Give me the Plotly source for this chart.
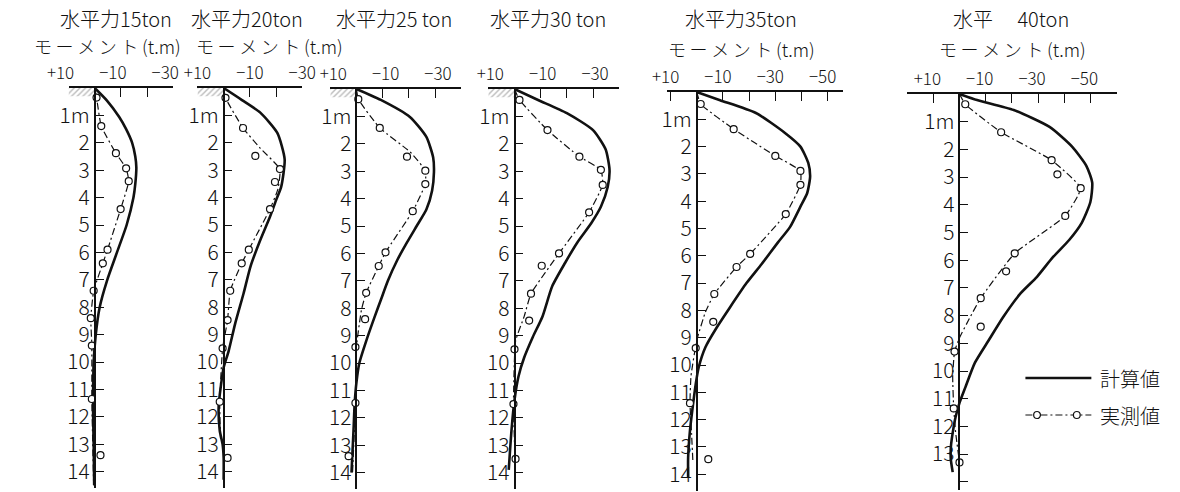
import plotly.graph_objects as go

W, H = 1180, 492
FONT = "Noto Sans CJK JP, Noto Sans, sans-serif"
INK = "#111111"

# ---- data: bending moment (t.m) against depth (m), one block per load case ----
loads = ["15", "20", "25", "30", "35", "40"]

calc_depth_15 = [0, 0.45, 1.05, 1.5, 2.0, 2.5, 2.9, 3.5, 4.0, 5.0, 6.0, 7.0, 8.0, 9.0, 10.0, 11.0, 12.0, 13.0, 14.5]
calc_moment_15 = [0, -4.6, -9.3, -12.0, -14.3, -15.5, -15.9, -15.5, -14.8, -12.2, -8.5, -4.8, -1.9, -0.4, 0.4, 0.6, 0.6, 0.4, 0.2]
meas_depth_15 = [0.35, 1.39, 2.38, 2.93, 3.4, 4.42, 5.9, 6.4, 7.4, 8.4, 9.4, 11.35, 13.4]
meas_moment_15 = [-0.7, -2.5, -8.1, -12.0, -13.0, -9.9, -4.9, -3.1, 0.4, 1.5, 1.1, 1.1, -2.2]
trend_depth_15 = [0, 0.35, 1.39, 2.38, 2.93, 3.4, 4.42, 5.9, 6.4, 7.4, 8.4, 9.4, 11.35, 14.5]
trend_moment_15 = [0, -0.7, -2.5, -8.1, -12.0, -13.0, -9.9, -4.9, -3.1, 0.4, 1.5, 1.1, 1.1, 0.4]

calc_depth_20 = [0, 0.44, 0.9, 1.64, 2.6, 3.6, 4.1, 4.7, 5.55, 6.5, 7.5, 8.6, 9.6, 10.2, 10.9, 11.6, 12.5, 13.0, 13.5, 14.3]
calc_moment_20 = [0, -7.0, -14.0, -20.5, -23.3, -22.0, -20.0, -17.7, -14.0, -10.3, -7.6, -4.4, -1.9, 0, 1.1, 1.9, 1.5, 0.4, 0, 0]
meas_depth_20 = [0.36, 1.46, 2.48, 2.96, 3.43, 4.42, 5.9, 6.4, 7.4, 8.47, 9.5, 11.45, 13.5]
meas_moment_20 = [-0.7, -7.4, -12.1, -21.5, -19.6, -17.7, -9.6, -6.9, -2.5, -1.5, 0.4, 1.5, -1.5]
trend_depth_20 = [0, 0.36, 1.46, 2.2, 2.96, 3.7, 4.42, 5.9, 6.4, 7.4, 8.47, 9.5, 11.45, 12.8]
trend_moment_20 = [0, -0.7, -7.4, -14.0, -21.5, -20.7, -17.7, -9.6, -6.9, -2.5, -1.5, 0.4, 1.5, 1.2]

calc_depth_25 = [0, 0.4, 1.02, 1.75, 2.5, 3.03, 3.7, 4.4, 5.0, 5.6, 6.24, 7.0, 7.7, 8.3, 9.2, 10.0, 10.7, 11.5, 12.4, 14.0]
calc_moment_25 = [0, -9.3, -20.4, -26.7, -29.3, -29.6, -28.9, -26.7, -23.0, -19.3, -15.6, -12.0, -9.3, -7.0, -3.7, -1.1, 0, 0.7, 1.1, 1.9]
meas_depth_25 = [0.37, 1.42, 2.47, 2.98, 3.47, 4.46, 5.96, 6.46, 7.44, 8.4, 9.42, 11.46, 13.4]
meas_moment_25 = [-0.7, -8.9, -19.3, -26.3, -26.3, -21.5, -11.1, -8.5, -3.7, -3.3, 0.4, 0.4, 3.0]
trend_depth_25 = [0, 0.37, 1.42, 2.3, 2.98, 3.47, 4.46, 5.96, 6.46, 7.44, 8.06, 9.4, 11.46, 14.0]
trend_moment_25 = [0, -0.7, -8.9, -20.5, -26.3, -26.3, -21.5, -11.1, -8.5, -3.7, -1.9, 0, 0.4, 1.5]

calc_depth_30 = [0, 0.4, 0.88, 1.5, 2.2, 2.95, 3.58, 4.3, 4.9, 5.6, 6.35, 7.2, 8.3, 9.05, 9.8, 10.5, 11.35, 12.4, 13.9]
calc_moment_30 = [0, -9.0, -20.0, -30.0, -34.8, -36.3, -35.6, -33.0, -29.3, -24.0, -19.3, -14.4, -10.7, -7.0, -3.7, -1.5, 0, 1.1, 2.2]
meas_depth_30 = [0.4, 1.5, 2.47, 2.95, 3.5, 4.5, 6.0, 6.45, 7.47, 8.45, 9.5, 11.5, 13.5]
meas_moment_30 = [-1.9, -12.6, -24.8, -33.0, -33.7, -28.5, -17.0, -10.4, -6.3, -5.6, 0, 0.4, -0.4]
trend_depth_30 = [0, 0.4, 1.5, 2.47, 2.95, 3.5, 4.5, 6.0, 7.47, 8.3, 9.2, 11.5, 13.5]
trend_moment_30 = [0, -1.9, -12.6, -24.8, -33.0, -33.7, -28.5, -17.0, -6.3, -3.7, -0.4, 0.4, -0.2]

calc_depth_35 = [0, 0.3, 0.77, 1.5, 2.0, 2.6, 3.1, 3.7, 4.2, 4.95, 5.5, 6.3, 7.0, 7.9, 8.6, 9.35, 10.1, 10.7, 11.5, 12.4, 13.4, 14.1]
calc_moment_35 = [0, -8.9, -22.6, -33.7, -39.6, -42.6, -43.3, -42.2, -39.6, -35.6, -31.1, -24.8, -19.0, -12.6, -7.8, -3.3, -0.7, 0.4, 1.5, 2.6, 3.3, 3.3]
meas_depth_35 = [0.44, 1.36, 2.34, 2.89, 3.4, 4.47, 5.93, 6.41, 7.4, 8.42, 9.38, 11.4, 13.45]
meas_moment_35 = [-1.5, -14.1, -30.0, -39.6, -39.6, -34.0, -20.4, -15.2, -6.7, -6.3, 0.4, 2.6, -4.4]
trend_depth_35 = [0, 0.44, 1.36, 2.34, 2.89, 3.4, 4.47, 5.93, 6.41, 7.4, 8.06, 9.1, 10.4, 11.4, 12.5, 13.5]
trend_moment_35 = [0, -1.5, -14.1, -30.0, -39.6, -39.6, -34.0, -20.4, -15.2, -6.7, -3.3, 0, 2.2, 2.6, 2.0, 1.5]

calc_depth_40 = [0, 0.22, 0.58, 1.19, 1.9, 2.6, 3.2, 3.9, 4.65, 5.27, 5.9, 6.6, 7.2, 8.05, 8.9, 9.7, 10.6, 11.15, 11.66, 12.0, 12.75, 13.2, 13.65]
calc_moment_40 = [0, -6.7, -20.7, -34.4, -43.0, -48.5, -50.7, -50.0, -46.7, -41.9, -35.6, -29.6, -23.3, -16.7, -11.1, -5.9, -2.2, 0, 1.5, 2.2, 3.3, 3.3, 2.6]
meas_depth_40 = [0.37, 1.38, 2.39, 2.9, 3.4, 4.4, 5.75, 6.4, 7.37, 8.4, 9.3, 11.35, 13.3]
meas_moment_40 = [-2.2, -15.9, -35.2, -37.4, -46.3, -40.4, -21.1, -17.8, -8.1, -8.1, 1.9, 2.2, 0]
trend_depth_40 = [0, 0.37, 1.38, 2.39, 3.4, 4.4, 5.75, 7.37, 8.05, 8.8, 9.3, 10.2, 11.35, 12.2, 13.3]
trend_moment_40 = [0, -2.2, -15.9, -35.2, -46.3, -40.4, -21.1, -8.1, -4.1, 0, 1.9, 2.6, 2.2, 1.5, 0]

depth_ticks = list(range(1, 15))
depth_labels = ["1m"] + [str(d) for d in range(2, 15)]
moment_ticks = [10, 0, -10, -20, -30, -40, -50]
moment_labels = ["+10", "", "−10", "", "−30", "", "−50"]

calc_depth = [calc_depth_15, calc_depth_20, calc_depth_25, calc_depth_30, calc_depth_35, calc_depth_40]
calc_moment = [calc_moment_15, calc_moment_20, calc_moment_25, calc_moment_30, calc_moment_35, calc_moment_40]
meas_depth = [meas_depth_15, meas_depth_20, meas_depth_25, meas_depth_30, meas_depth_35, meas_depth_40]
meas_moment = [meas_moment_15, meas_moment_20, meas_moment_25, meas_moment_30, meas_moment_35, meas_moment_40]
trend_depth = [trend_depth_15, trend_depth_20, trend_depth_25, trend_depth_30, trend_depth_35, trend_depth_40]
trend_moment = [trend_moment_15, trend_moment_20, trend_moment_25, trend_moment_30, trend_moment_35, trend_moment_40]

# ---- panel geometry (pixels): pile axis x, ground line y, px per metre, moment span ----
# the moment axes run right-to-left in value, so a positive label shift moves text left
PX_PER_TM = 2.7
TICK_FONT = 17
panels = [
    dict(zero=75, top=88, ppm=27.4, left=10, right=-30, dmax=14.6, last_tick=-30, hatch=True, shift=8),
    dict(zero=208, top=88, ppm=27.4, left=10, right=-30, dmax=14.6, last_tick=-30, hatch=True, shift=0),
    dict(zero=345, top=89, ppm=27.4, left=10, right=-40, dmax=14.6, last_tick=-40, hatch=True, shift=-3),
    dict(zero=508, top=89, ppm=27.4, left=10, right=-40, dmax=14.6, last_tick=-40, hatch=True, shift=-2),
    dict(zero=696, top=92, ppm=27.3, left=11.5, right=-56, dmax=14.6, last_tick=-50, hatch=False, shift=5),
    dict(zero=967, top=94, ppm=27.7, left=20, right=-60, dmax=14.3, last_tick=-50, hatch=False, shift=6),
]
titles = ["水平力15ton", "水平力20ton", "水平力25 ton", "水平力30 ton", "水平力35ton", "水平\u3000 40ton"]
title_pos = [(97, 19), (232, 19), (384, 19), (543, 19), (742, 19), (1020, 19)]
SP = "\u2009"
unit_text = SP.join("モーメント") + SP + "(t.m)"
unit_pos = [(88, 46), (255, 46), (742, 49), (1022, 49)]


def font(size):
    return dict(family=FONT, size=size, color=INK, weight=300)


fig = go.Figure()
layout = {}

for i, p in enumerate(panels):
    n = i + 1
    xa, ya = f"x{n}", f"y{n}"
    x0 = (p["zero"] - p["left"] * PX_PER_TM) / W
    x1 = (p["zero"] - p["right"] * PX_PER_TM) / W
    ytop = 1 - p["top"] / H
    ybot = 1 - (p["top"] + p["dmax"] * p["ppm"]) / H

    tv = [t for t in moment_ticks if t >= p["last_tick"]]
    tt = [moment_labels[moment_ticks.index(t)] for t in tv]

    layout[f"xaxis{n}"] = dict(
        domain=[x0, x1], range=[p["left"], p["right"]], anchor=ya, side="top",
        showline=True, linecolor=INK, linewidth=1.6, showgrid=False, zeroline=False,
        tickmode="array", tickvals=tv, ticktext=tt, ticks="inside", ticklen=9,
        tickwidth=1.4, tickcolor=INK, tickfont=font(TICK_FONT), ticklabelshift=p["shift"],
        fixedrange=True,
    )
    layout[f"yaxis{n}"] = dict(
        domain=[ybot, ytop], range=[p["dmax"], 0], anchor="free", position=p["zero"] / W,
        showline=True, linecolor=INK, linewidth=1.6, showgrid=False, zeroline=False,
        tickmode="array", tickvals=depth_ticks, ticktext=depth_labels, ticks="inside",
        ticklen=8, tickwidth=1.3, tickcolor=INK, tickfont=font(21),
        fixedrange=True,
    )

    if p["hatch"]:
        # ground surface symbol beside the pile head
        fig.add_trace(go.Scatter(
            x=[10, 0, 0, 10, 10], y=[0, 0, 0.3, 0.3, 0], xaxis=xa, yaxis=ya,
            mode="lines", line=dict(width=0), fill="toself", fillcolor="rgba(255,255,255,0)",
            fillpattern=dict(shape="/", fgcolor="#777777", size=4, solidity=0.35),
            hoverinfo="skip", showlegend=False,
        ))

    # calculated moment
    fig.add_trace(go.Scatter(
        x=calc_moment[i], y=calc_depth[i], xaxis=xa, yaxis=ya, mode="lines",
        line=dict(color=INK, width=2.6, shape="spline", smoothing=0.6),
        name="計算値", showlegend=False,
    ))
    # measured trend line
    fig.add_trace(go.Scatter(
        x=trend_moment[i], y=trend_depth[i], xaxis=xa, yaxis=ya, mode="lines",
        line=dict(color=INK, width=1.2, dash="7px,3px,2px,3px", shape="spline", smoothing=0.4),
        showlegend=False, hoverinfo="skip",
    ))
    # measured points
    fig.add_trace(go.Scatter(
        x=meas_moment[i], y=meas_depth[i], xaxis=xa, yaxis=ya, mode="markers",
        marker=dict(symbol="circle", size=7, color="white", line=dict(color=INK, width=1.2)),
        name="実測値", showlegend=False,
    ))

annotations = []
for t, (px, py) in zip(titles, title_pos):
    annotations.append(dict(text=t, x=px / W, y=1 - py / H, xref="paper", yref="paper",
                            showarrow=False, xanchor="center", yanchor="middle", font=font(20)))
for px, py in unit_pos:
    annotations.append(dict(text=unit_text, x=px / W, y=1 - py / H, xref="paper", yref="paper",
                            showarrow=False, xanchor="center", yanchor="middle", font=font(18)))

# key
shapes = []
key_x0, key_x1 = 1035, 1103
key_rows = [("計算値", 378), ("実測値", 415)]
shapes.append(dict(type="line", xref="paper", yref="paper", x0=key_x0 / W, x1=key_x1 / W,
                   y0=1 - 378 / H, y1=1 - 378 / H, line=dict(color=INK, width=2.6)))
shapes.append(dict(type="line", xref="paper", yref="paper", x0=key_x0 / W, x1=key_x1 / W,
                   y0=1 - 415 / H, y1=1 - 415 / H, line=dict(color=INK, width=1.2, dash="7px,3px,2px,3px")))
for cx in (1047, 1088):
    shapes.append(dict(type="circle", xref="paper", yref="paper",
                       x0=(cx - 3.5) / W, x1=(cx + 3.5) / W, y0=1 - 418.5 / H, y1=1 - 411.5 / H,
                       fillcolor="white", line=dict(color=INK, width=1.2)))
for label, py in key_rows:
    annotations.append(dict(text=label, x=1110 / W, y=1 - py / H, xref="paper", yref="paper",
                            showarrow=False, xanchor="left", yanchor="middle", font=font(20)))

fig.update_layout(
    width=W, height=H, margin=dict(l=0, r=0, t=0, b=0),
    paper_bgcolor="white", plot_bgcolor="rgba(0,0,0,0)",
    showlegend=False, annotations=annotations, shapes=shapes, **layout,
)

fig.write_html("out.html")
